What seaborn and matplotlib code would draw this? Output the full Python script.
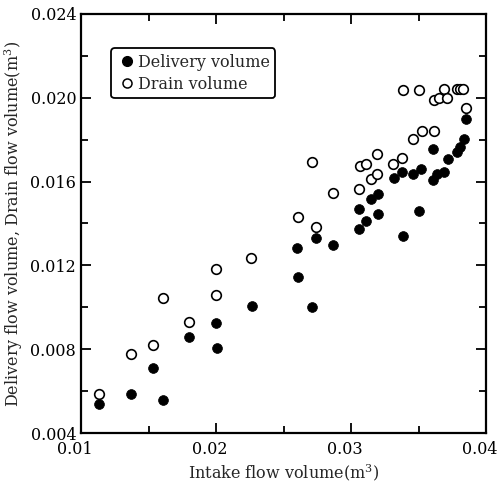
import matplotlib
matplotlib.use("Agg")
import matplotlib.pyplot as plt
import matplotlib.transforms as mtrans
import seaborn as sns
import pandas as pd
from matplotlib.lines import Line2D

delivery_x = [0.01133, 0.01368, 0.01536, 0.0161, 0.0180, 0.0200, 0.0201, 0.02267,
              0.02598, 0.02605, 0.02709, 0.02739, 0.02869, 0.03059, 0.03059, 0.03109,
              0.03148, 0.03198, 0.03198, 0.03321, 0.03376, 0.03383, 0.03457, 0.03507,
              0.03521, 0.03607, 0.0361, 0.03635, 0.03689, 0.03721, 0.03783, 0.03807,
              0.03837, 0.03852]
delivery_y = [0.0054, 0.00587, 0.00709, 0.00558, 0.0086, 0.00925, 0.00806, 0.01007,
              0.01284, 0.01147, 0.01002, 0.01329, 0.01295, 0.01469, 0.01372, 0.0141,
              0.01517, 0.01445, 0.01542, 0.01617, 0.01646, 0.01342, 0.01635, 0.01458,
              0.01658, 0.01756, 0.01609, 0.01638, 0.01646, 0.01706, 0.01743, 0.01764,
              0.01802, 0.01901]

drain_x = [0.01133, 0.01368, 0.01536, 0.0161, 0.0180, 0.0200, 0.0200, 0.0226,
           0.02605, 0.02709, 0.02739, 0.02869, 0.03059, 0.03067, 0.03111, 0.03148,
           0.03195, 0.03195, 0.03314, 0.03376, 0.03457, 0.03523, 0.03615, 0.03387,
           0.03507, 0.03615, 0.0365, 0.03689, 0.03709, 0.03783, 0.03807, 0.03832,
           0.03852]
drain_y = [0.00588, 0.00775, 0.00822, 0.01044, 0.00928, 0.01183, 0.01057, 0.01236,
           0.01429, 0.01695, 0.01381, 0.01546, 0.01563, 0.01675, 0.01684, 0.01611,
           0.01638, 0.0173, 0.01684, 0.01711, 0.01802, 0.0184, 0.01843, 0.02038,
           0.02038, 0.01989, 0.0200, 0.0204, 0.0200, 0.0204, 0.0204, 0.0204,
           0.01949]

x_ticks = [0.01, 0.02, 0.03, 0.04]
y_ticks = [0.004, 0.008, 0.012, 0.016, 0.020, 0.024]
x_tick_labels = ["0.01", "0.02", "0.03", "0.04"]
y_tick_labels = ["0.004", "0.008", "0.012", "0.016", "0.020", "0.024"]
legend_labels = ["Delivery volume", "Drain volume"]

sns.set_style("ticks")
plt.rcParams["font.family"] = ["DejaVu Serif"]
plt.rcParams["mathtext.fontset"] = "dejavuserif"

fig = plt.figure(figsize=(4.99, 4.84), dpi=100)
ax = fig.add_axes([81 / 499, 1 - 433 / 484, 405 / 499, 419 / 484])

df_d = pd.DataFrame({"x": delivery_x, "y": delivery_y})
df_r = pd.DataFrame({"x": drain_x, "y": drain_y})

sns.scatterplot(data=df_r, x="x", y="y", ax=ax, s=48, facecolor="white",
                edgecolor="black", linewidth=1.2, zorder=3)
sns.scatterplot(data=df_d, x="x", y="y", ax=ax, s=50, color="black",
                edgecolor="black", linewidth=0.5, zorder=4)

ax.set_xlim(0.01, 0.04)
ax.set_ylim(0.004, 0.024)
ax.set_xticks(x_ticks)
ax.set_xticklabels(x_tick_labels)
ax.set_yticks(y_ticks)
ax.set_yticklabels(y_tick_labels)
ax.set_xticks([0.015, 0.025, 0.035], minor=True)
ax.set_yticks([0.006, 0.010, 0.014, 0.018, 0.022], minor=True)
ax.tick_params(which="both", direction="in", top=True, right=True, labelsize=11.5,
               width=1.3, colors="black")
ax.tick_params(which="major", length=7)
ax.tick_params(which="minor", length=5)
ax.tick_params(axis="x", which="major", pad=6)
for sp in ax.spines.values():
    sp.set_linewidth(1.6)
    sp.set_color("black")

shift = mtrans.ScaledTranslation(-6 / 100, 0, fig.dpi_scale_trans)
for lbl in ax.get_xticklabels():
    lbl.set_transform(lbl.get_transform() + shift)

ax.set_xlabel("Intake flow volume(m$^3$)", fontsize=11.5, labelpad=3)
ax.set_ylabel("Delivery flow volume, Drain flow volume(m$^3$)", fontsize=11.5, labelpad=4)

handles = [
    Line2D([], [], marker="o", linestyle="", markerfacecolor="black",
           markeredgecolor="black", markersize=7),
    Line2D([], [], marker="o", linestyle="", markerfacecolor="white",
           markeredgecolor="black", markersize=6.5, markeredgewidth=1.1),
]
leg = ax.legend(handles, legend_labels, loc="upper left",
                bbox_to_anchor=(0.075, 0.918), frameon=True, fancybox=True,
                fontsize=11.5, handletextpad=0.1, handlelength=1.2,
                borderpad=0.35, labelspacing=0.3, borderaxespad=0)
leg.get_frame().set_edgecolor("black")
leg.get_frame().set_linewidth(1.3)
leg.get_frame().set_alpha(1)

fig.savefig("out.png", dpi=100)
